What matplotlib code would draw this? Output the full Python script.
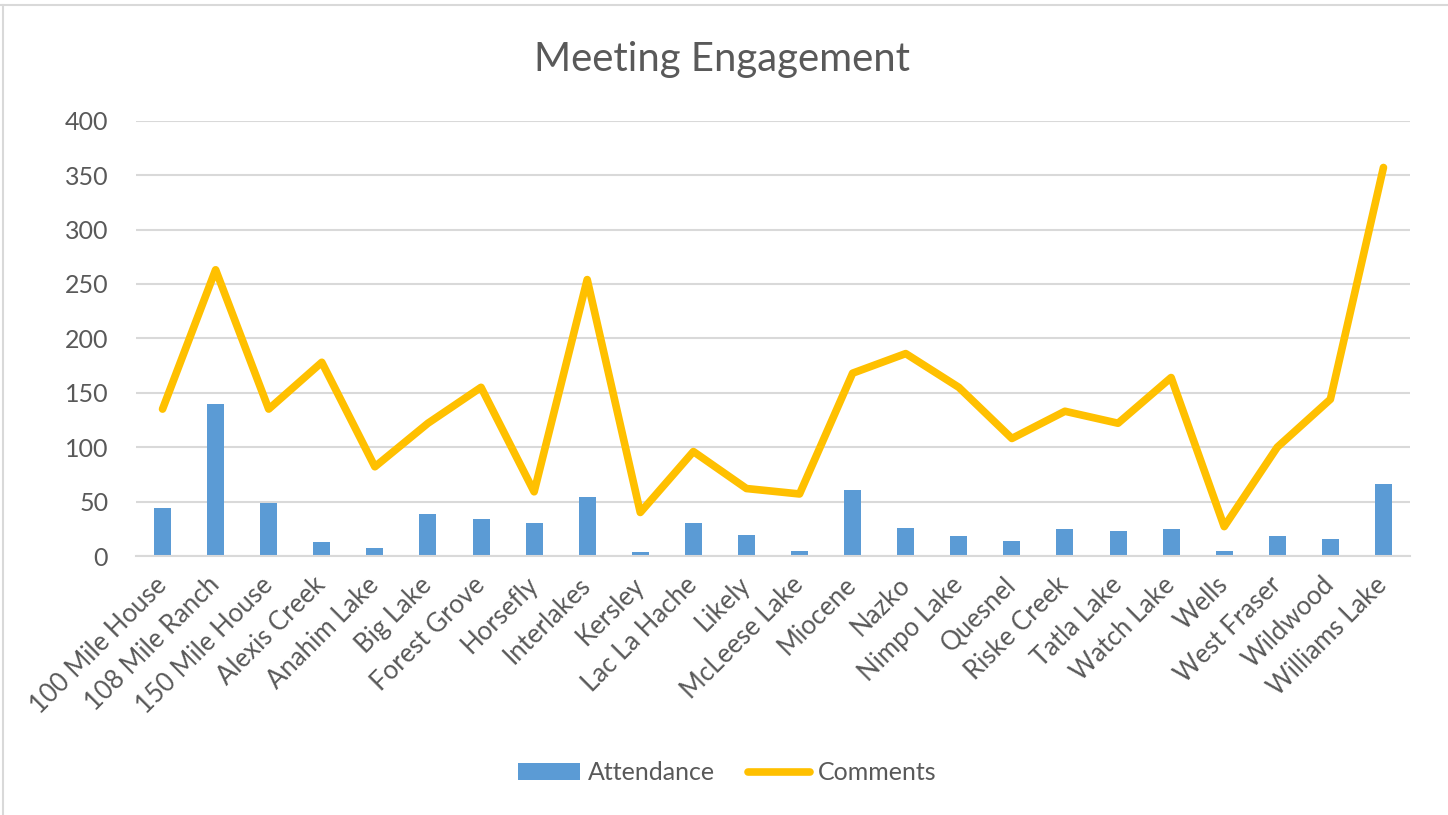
import matplotlib
matplotlib.use("Agg")
import matplotlib.pyplot as plt
from matplotlib.lines import Line2D
import numpy as np

categories = ["100 Mile House", "108 Mile Ranch", "150 Mile House", "Alexis Creek",
              "Anahim Lake", "Big Lake", "Forest Grove", "Horsefly", "Interlakes",
              "Kersley", "Lac La Hache", "Likely", "McLeese Lake", "Miocene", "Nazko",
              "Nimpo Lake", "Quesnel", "Riske Creek", "Tatla Lake", "Watch Lake",
              "Wells", "West Fraser", "Wildwood", "Williams Lake"]
attendance = [44, 140, 49, 13, 7, 39, 34, 30, 54, 4, 30, 19, 5, 61, 26, 18, 14, 25,
              23, 25, 5, 18, 16, 66]
comments = [135, 263, 135, 178, 82, 122, 155, 59, 254, 40, 96, 62, 57, 168, 186, 155,
            108, 133, 122, 164, 27, 100, 144, 357]
y_ticks = [0, 50, 100, 150, 200, 250, 300, 350, 400]

plt.rcParams['font.family'] = ['Lato', 'DejaVu Sans']
text_color = '#595959'
grid_color = '#D9D9D9'

fig = plt.figure(figsize=(14.48, 8.15), dpi=100)
ax = fig.add_axes([136/1448, 1-556/815, (1410-136)/1448, (556-120.7)/815])

x = np.arange(len(categories))
bars = ax.bar(x, attendance, width=0.32, color='#5B9BD5', label='Attendance', zorder=2)
line, = ax.plot(x, comments, color='#FFC000', linewidth=5.5, solid_capstyle='round',
                solid_joinstyle='round', label='Comments', zorder=3)

ax.set_xlim(-0.5, len(categories) - 0.5)
ax.set_ylim(0, 400)
ax.set_yticks(y_ticks)
ax.set_yticklabels([str(v) for v in y_ticks])
ax.yaxis.grid(True, color=grid_color, linewidth=1.5, zorder=0)
ax.set_axisbelow(True)
for s in ['top', 'right', 'left']:
    ax.spines[s].set_visible(False)
ax.spines['bottom'].set_color(grid_color)
ax.spines['bottom'].set_linewidth(1.5)

ax.tick_params(axis='y', length=0, pad=20, labelsize=18, labelcolor=text_color)
ax.set_xticks(x)
ax.set_xticklabels(categories)
ax.tick_params(axis='x', length=0, pad=18, labelsize=18.5, labelcolor=text_color)
for lbl in ax.get_xticklabels():
    lbl.set_rotation(45)
    lbl.set_rotation_mode('anchor')
    lbl.set_ha('right')
    lbl.set_va('center')

fig.text(722.5/1448, 1-71/815, 'Meeting Engagement', ha='center', va='baseline',
         fontsize=28.8, color=text_color)

leg = fig.legend([bars, line], ['Attendance', 'Comments'], loc='center',
                 bbox_to_anchor=(727/1448, 1-773/815),
                 ncol=2, frameon=False, fontsize=18, handlelength=2.5, handleheight=0.65,
                 handletextpad=0.3, columnspacing=1.3, labelcolor=text_color)

# chart area border fragments
fig.add_artist(Line2D([0, 1], [1-5/815, 1-5/815], transform=fig.transFigure,
                      color=grid_color, linewidth=1.5))
fig.add_artist(Line2D([3/1448, 3/1448], [0, 1-5/815], transform=fig.transFigure,
                      color=grid_color, linewidth=1.5))

fig.savefig('out.png', dpi=100, facecolor='white')
